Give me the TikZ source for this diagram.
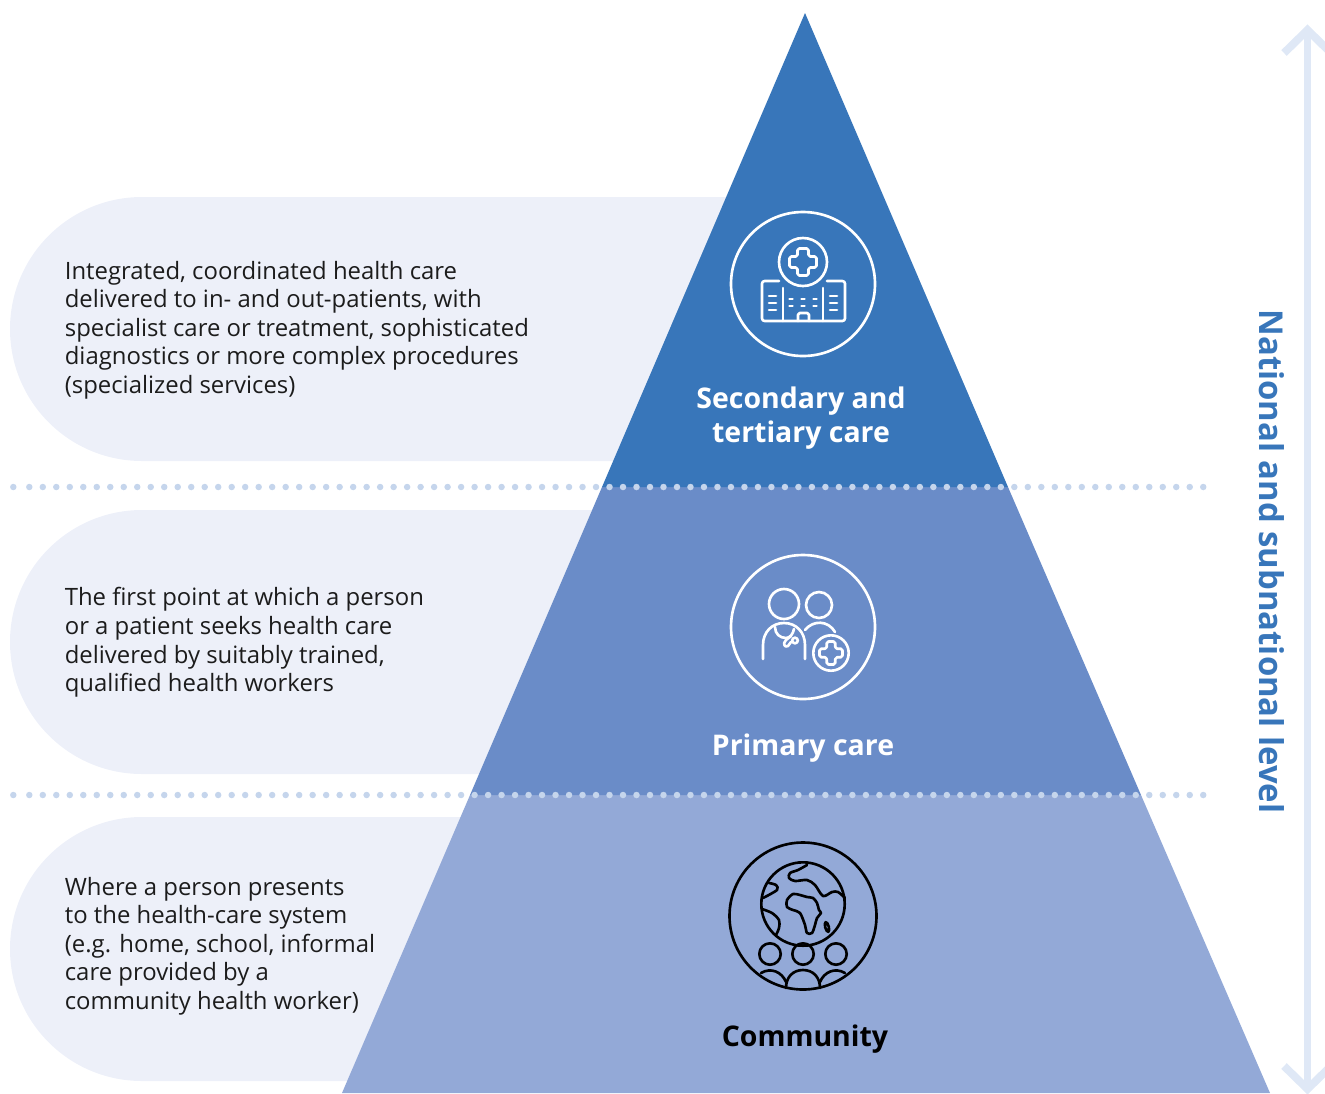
\documentclass[tikz,border=0pt]{standalone}
\usepackage{fontspec}
\setmainfont{Open Sans}
\definecolor{bandtop}{HTML}{3876BA}
\definecolor{bandmid}{HTML}{6A8CC8}
\definecolor{bandlow}{HTML}{93A9D7}
\definecolor{blobfill}{HTML}{EDF0F9}
\definecolor{dotblue}{HTML}{C5D5EC}
\definecolor{arrowblue}{HTML}{DFE8F6}
\definecolor{bodyink}{HTML}{1C1C1C}

\begin{document}
\begin{tikzpicture}[x=0.02cm, y=-0.02cm,
    bodytext/.style={anchor=west, inner sep=0, align=left, text=bodyink, font=\fontsize{13.6}{16.27}\selectfont},
    leveltext/.style={inner sep=0, align=center, font=\fontsize{16.2}{19.8}\selectfont\bfseries},
    blob/.style={fill=blobfill, rounded corners=2.64cm},
    whiteicon/.style={draw=white, line width=1.5pt, line cap=round, line join=round},
    blackicon/.style={draw=black, line width=1.5pt, line cap=round, line join=round},
    dotrow/.style={draw=dotblue, line width=3.7pt, line cap=round, dash pattern=on 0pt off 7.68pt}]
    \useasboundingbox (0, 0) rectangle (1325, 1093);

    \fill[blob] (10, 197) -- (900, 197) -- (900, 461) -- (10, 461) -- cycle;
    \fill[blob] (10, 510) -- (800, 510) -- (800, 774) -- (10, 774) -- cycle;
    \fill[blob] (10, 817) -- (700, 817) -- (700, 1081) -- (10, 1081) -- cycle;

    \fill[bandlow] (470, 795) -- (1141, 795) -- (1270, 1093) -- (342, 1093) -- cycle;
    \fill[bandmid] (602, 487) -- (1008, 487) -- (1141, 795) -- (470, 795) -- cycle;
    \fill[bandtop] (805, 13) -- (1008, 487) -- (602, 487) -- cycle;

    \coordinate (rowaleft) at (29.3, 487);
    \coordinate (rowaright) at (1212, 487);
    \coordinate (rowbleft) at (29.3, 795);
    \coordinate (rowbright) at (1212, 795);
    \draw[dotrow] (rowaleft) -- (rowaright);
    \draw[dotrow] (rowbleft) -- (rowbright);
    \fill[dotblue] (13.3, 487) circle (3.25);
    \fill[dotblue] (13.3, 795) circle (3.25);

    \coordinate (arrowtop) at (1307.5, 30);
    \coordinate (arrowlow) at (1307.5, 1089);
    \draw[arrowblue, line width=4.5pt] (arrowtop) -- (arrowlow);
    \draw[arrowblue, line width=4.5pt] (1284, 53) -- (arrowtop) -- (1331, 53);
    \draw[arrowblue, line width=4.5pt] (1284, 1066) -- (arrowlow) -- (1331, 1066);

    \node[bodytext] (secondarytext) at (64.5, 330) {Integrated, coordinated health care\\delivered to in- and out-patients, with\\specialist care or treatment, sophisticated\\diagnostics or more complex procedures\\(specialized services)};
    \node[bodytext] (primarytext) at (64.5, 642.5) {The first point at which a person\\or a patient seeks health care\\delivered by suitably trained,\\qualified health workers};
    \node[bodytext] (communitytext) at (64.5, 946) {Where a person presents\\to the health-care system\\(e.g. home, school, informal\\care provided by a\\community health worker)};

    \node[leveltext, text=white] (secondarylabel) at (801, 418) {Secondary and\\tertiary care};
    \node[leveltext, text=white] (primarylabel) at (803, 748) {Primary care};
    \node[leveltext, text=black] (communitylabel) at (805, 1039) {Community};
    \node[inner sep=0, rotate=-90, text=bandtop, font=\fontsize{18.7}{22}\selectfont\bfseries] (scalelabel) at (1272, 561.5) {National and subnational level};

    % hospital
    \draw[whiteicon] (803, 284) circle (72);
    \draw[whiteicon] (803, 262) circle (24);
    \draw[whiteicon, rounded corners=1pt] (797.5, 248.5) -- (808.5, 248.5) -- (808.5, 256.5) -- (816.5, 256.5) -- (816.5, 267.5) -- (808.5, 267.5) -- (808.5, 275.5) -- (797.5, 275.5) -- (797.5, 267.5) -- (789.5, 267.5) -- (789.5, 256.5) -- (797.5, 256.5) -- cycle;
    \draw[whiteicon, rounded corners=1.5pt] (779, 281) -- (762, 281) -- (762, 321) -- (845, 321) -- (845, 281) -- (827, 281);
    \draw[whiteicon] (783, 288) -- (783, 321);
    \draw[whiteicon] (823, 288) -- (823, 321);
    \draw[whiteicon, rounded corners=1pt] (798, 321) -- (798, 313) -- (809, 313) -- (809, 321);
    \foreach \y in {296, 303, 310} {
        \draw[whiteicon] (769, \y) -- (776, \y);
        \draw[whiteicon] (830, \y) -- (837, \y);
    }
    \foreach \y in {299, 306} {
        \foreach \x in {791, 803, 815} {
            \draw[whiteicon] (\x - 1.5, \y) -- (\x + 1.5, \y);
        }
    }

    % doctor and patient
    \draw[whiteicon] (803, 627) circle (72);
    \draw[whiteicon] (784, 604) circle (15);
    \draw[whiteicon] (819, 605) circle (13);
    \draw[whiteicon] (763, 659) -- (763, 645) .. controls (763, 632) and (772, 623) .. (784, 623) .. controls (796, 623) and (805, 632) .. (805, 645) -- (805, 659);
    \draw[whiteicon] (775, 627) .. controls (775, 634) and (780, 638) .. (786, 638) .. controls (790, 638) and (793, 634) .. (794, 629);
    \draw[whiteicon] (791, 636) -- (786, 640) .. controls (782, 644) and (785, 648) .. (788, 646) -- (791, 642);
    \draw[whiteicon] (795, 640.5) circle (2.8);
    \draw[whiteicon] (805, 630) .. controls (813, 620) and (828, 620) .. (835, 632);
    \draw[whiteicon] (831, 653) circle (17.7);
    \draw[whiteicon, rounded corners=1pt] (826.7, 641.5) -- (835.3, 641.5) -- (835.3, 648.7) -- (842.5, 648.7) -- (842.5, 657.3) -- (835.3, 657.3) -- (835.3, 664.5) -- (826.7, 664.5) -- (826.7, 657.3) -- (819.5, 657.3) -- (819.5, 648.7) -- (826.7, 648.7) -- cycle;

    % globe and people
    \draw[blackicon] (803, 916) circle (73.5);
    \draw[blackicon] (803, 904) circle (41.7);
    \draw[blackicon] plot[smooth] coordinates {(807, 865) (798, 870) (790, 873) (789, 878) (795, 881) (807, 880) (815, 885) (823, 896) (832, 892) (838, 892) (845, 898)};
    \draw[blackicon] plot[smooth] coordinates {(769, 883) (776, 885) (777, 890) (763, 898)};
    \draw[blackicon] plot[smooth] coordinates {(762, 909) (772, 913) (779, 920) (779, 928) (776, 935)};
    \draw[blackicon] plot[smooth cycle] coordinates {(787, 900) (793, 894) (800, 895) (807, 897) (813, 898) (817, 903) (819, 910) (821, 913) (817, 918) (815, 925) (812, 933) (807, 933) (805, 925) (800, 913) (793, 910) (787, 907)};
    \draw[blackicon, rotate around={15:(827, 927)}] (827, 927) ellipse (1.8 and 5);
    \foreach \x in {770, 803, 836} {
        \draw[blackicon] (\x, 954) circle (10.7);
    }
    \draw[blackicon] (786, 988) .. controls (786, 977) and (793, 970) .. (803, 970) .. controls (813, 970) and (820, 977) .. (820, 988);
    \draw[blackicon] (761, 973) .. controls (771, 967) and (782, 972) .. (786, 982);
    \draw[blackicon] (845, 973) .. controls (835, 967) and (824, 972) .. (820, 982);
\end{tikzpicture}
\end{document}
